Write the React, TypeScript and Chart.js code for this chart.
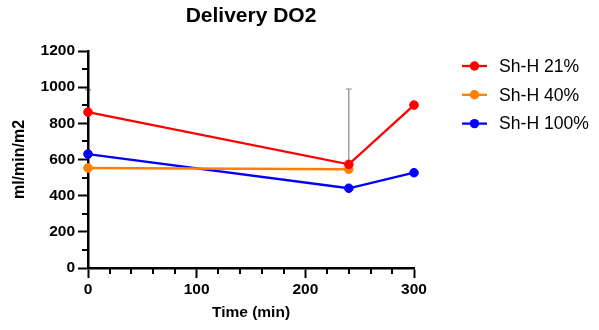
import React, { useEffect, useRef } from "react";
import { Chart, registerables } from "chart.js";

Chart.register(...registerables);

const chartTitle = "Delivery DO2";
const xAxisTitle = "Time (min)";
const yAxisTitle = "ml/min/m2";
const timePoints = [0, 240, 300];
const seriesLabels = ["Sh-H 21%", "Sh-H 40%", "Sh-H 100%"];
const seriesColors = ["#ff0000", "#ff8000", "#0000ff"];
const sh21 = [862, 573, 901];
const sh40: (number | null)[] = [553, 546, null];
const sh100 = [630, 441, 527];
const sh21ErrUpper: (number | null)[] = [985, 990, null];
const yMin = 0;
const yMax = 1200;
const yStep = 200;
const yMinorStep = 100;
const xMin = 0;
const xMax = 300;
const xStep = 100;
const xMinorStep = 20;

const FONT = "'Liberation Sans', Arial, Helvetica, sans-serif";

const toPoints = (vals: (number | null)[]) =>
  timePoints
    .map((x, i) => ({ x, y: vals[i] }))
    .filter((p) => p.y !== null && p.y !== undefined);

const errorBarPlugin = {
  id: "errorBars",
  beforeDraw(chart: any) {
    const { ctx, scales } = chart;
    const xs = scales.x;
    const ys = scales.y;
    ctx.save();
    ctx.strokeStyle = "#8c8c8c";
    ctx.lineWidth = 1.2;
    timePoints.forEach((t, i) => {
      const up = sh21ErrUpper[i];
      const v = sh21[i];
      if (up === null || up === undefined) return;
      const px = xs.getPixelForValue(t);
      const py0 = ys.getPixelForValue(v);
      const py1 = ys.getPixelForValue(up);
      ctx.beginPath();
      ctx.moveTo(px, py0);
      ctx.lineTo(px, py1);
      ctx.moveTo(px - 3, py1);
      ctx.lineTo(px + 3, py1);
      ctx.stroke();
    });
    ctx.restore();
  },
};

const minorTicksPlugin = {
  id: "minorTicks",
  afterDraw(chart: any) {
    const { ctx, scales } = chart;
    const xs = scales.x;
    const ys = scales.y;
    const area = chart.chartArea;
    ctx.save();
    ctx.strokeStyle = "#000";
    ctx.lineWidth = 2;
    for (let v = yMin + yMinorStep; v < yMax; v += yMinorStep) {
      if (v % yStep === 0) continue;
      const py = Math.round(ys.getPixelForValue(v));
      ctx.beginPath();
      ctx.moveTo(area.left - 6, py);
      ctx.lineTo(area.left, py);
      ctx.stroke();
    }
    for (let v = xMin + xMinorStep; v < xMax; v += xMinorStep) {
      if (v % xStep === 0) continue;
      const px = Math.round(xs.getPixelForValue(v));
      ctx.beginPath();
      ctx.moveTo(px, area.bottom);
      ctx.lineTo(px, area.bottom + 6);
      ctx.stroke();
    }
    ctx.restore();
  },
};

const legendPlugin = {
  id: "customLegend",
  afterDraw(chart: any) {
    const { ctx } = chart;
    ctx.save();
    seriesLabels.forEach((label, i) => {
      const y = 66 + i * 28.8;
      ctx.strokeStyle = seriesColors[i];
      ctx.fillStyle = seriesColors[i];
      ctx.lineWidth = 2.3;
      ctx.beginPath();
      ctx.moveTo(462, y);
      ctx.lineTo(487, y);
      ctx.stroke();
      ctx.beginPath();
      ctx.arc(474.5, y, 4.7, 0, Math.PI * 2);
      ctx.fill();
      ctx.fillStyle = "#000";
      ctx.font = `17.6px ${FONT}`;
      ctx.textBaseline = "middle";
      ctx.textAlign = "left";
      ctx.fillText(label, 499, y + 1);
    });
    ctx.restore();
  },
};

export default function App() {
  const ref = useRef<HTMLCanvasElement | null>(null);

  useEffect(() => {
    if (!ref.current) return;
    const allSeries = [sh21, sh40, sh100];
    const chart = new Chart(ref.current, {
      type: "line",
      data: {
        datasets: allSeries.map((vals, i) => ({
          label: seriesLabels[i],
          data: toPoints(vals) as any,
          borderColor: seriesColors[i],
          backgroundColor: seriesColors[i],
          pointBackgroundColor: seriesColors[i],
          pointBorderColor: seriesColors[i],
          pointRadius: 4.3,
          pointBorderWidth: 1,
          borderWidth: 2.3,
          tension: 0,
          clip: false as any,
        })),
      },
      options: {
        responsive: false,
        animation: false,
        devicePixelRatio: 1,
        layout: { padding: { top: 0, left: 0, right: 185, bottom: 0 } },
        plugins: {
          legend: { display: false },
          tooltip: { enabled: false },
          title: {
            display: true,
            text: chartTitle,
            fullSize: false,
            color: "#000",
            font: { family: FONT, size: 21, weight: "bold" },
            padding: { top: 3.4, bottom: 22.4 },
          },
        },
        scales: {
          x: {
            type: "linear",
            min: xMin,
            max: xMax,
            ticks: {
              stepSize: xStep,
              color: "#000",
              padding: 2,
              font: { family: FONT, size: 15.5, weight: "bold" },
              callback: (v: any) => String(v),
            },
            grid: {
              drawOnChartArea: false,
              drawTicks: true,
              tickLength: 10,
              tickWidth: 2,
              color: "#000",
            },
            border: { color: "#000", width: 2.5 },
            title: {
              display: true,
              text: xAxisTitle,
              color: "#000",
              font: { family: FONT, size: 15.5, weight: "bold" },
              padding: { top: 0, bottom: 8 },
            },
            afterFit: (s: any) => {
              s.height = 62;
            },
          },
          y: {
            type: "linear",
            min: yMin,
            max: yMax,
            ticks: {
              stepSize: yStep,
              color: "#000",
              padding: 3,
              font: { family: FONT, size: 15.5, weight: "bold" },
              callback: (v: any) => String(v),
            },
            grid: {
              drawOnChartArea: false,
              drawTicks: true,
              tickLength: 10,
              tickWidth: 2,
              color: "#000",
            },
            border: { color: "#000", width: 2.5 },
            title: {
              display: true,
              text: yAxisTitle,
              color: "#000",
              font: { family: FONT, size: 16, weight: "bold" },
              padding: { top: 10, bottom: 0 },
            },
            afterFit: (s: any) => {
              s.width = 88;
            },
          },
        },
      },
      plugins: [errorBarPlugin, minorTicksPlugin, legendPlugin],
    });
    return () => chart.destroy();
  }, []);

  return (
    <div style={{ position: "absolute", left: 0, top: 0, width: 599, height: 330, background: "#fff" }}>
      <canvas ref={ref} width={599} height={330} style={{ display: "block" }} />
    </div>
  );
}
